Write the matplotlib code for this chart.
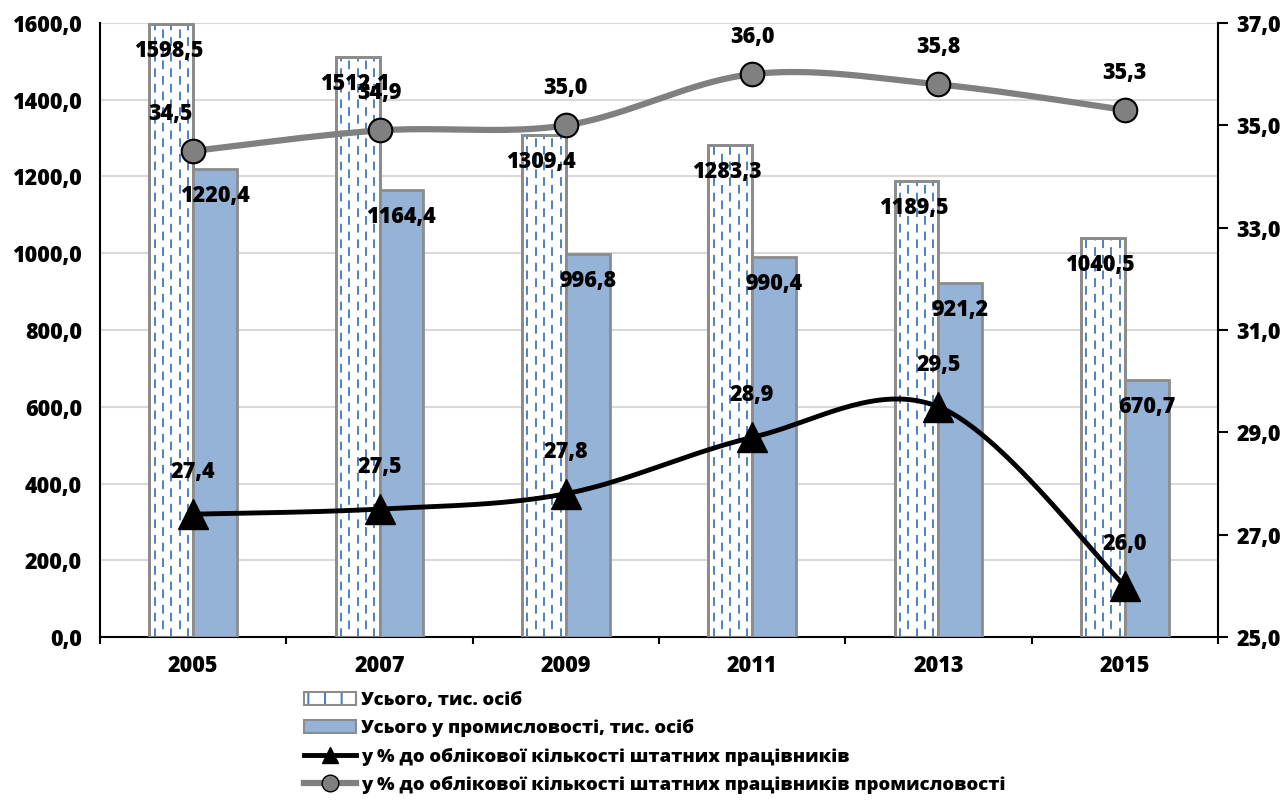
import numpy as np
import matplotlib
matplotlib.use('Agg')
import matplotlib.pyplot as plt
from matplotlib.patches import Patch
from matplotlib.lines import Line2D
from matplotlib.legend_handler import HandlerTuple

plt.rcParams['font.family'] = ['Open Sans', 'DejaVu Sans']
plt.rcParams['font.weight'] = 'heavy'
plt.rcParams['hatch.linewidth'] = 1.5

years = ['2005', '2007', '2009', '2011', '2013', '2015']
total = [1598.5, 1512.1, 1309.4, 1283.3, 1189.5, 1040.5]
industry = [1220.4, 1164.4, 996.8, 990.4, 921.2, 670.7]
pct_staff = [27.4, 27.5, 27.8, 28.9, 29.5, 26.0]
pct_industry = [34.5, 34.9, 35.0, 36.0, 35.8, 35.3]

labels = ['Усього, тис. осіб',
          'Усього у промисловості, тис. осіб',
          'у % до облікової кількості штатних працівників',
          'у % до облікової кількості штатних працівників промисловості']

blue_fill = '#95b3d7'
blue_dash = '#4f81bd'
edge = '#8c8c8c'
gray_line = '#808080'
fw = 'heavy'
fs = 15.5


def fmt(v):
    return f'{v:.1f}'.replace('.', ',')


def smooth(xs, ys, n=40):
    # excel-like smoothed line: bezier through points, control = p +/- (p[i+1]-p[i-1])/6
    p = np.column_stack([xs, ys]).astype(float)
    ext = np.vstack([p[0], p, p[-1]])
    out = []
    for i in range(len(p) - 1):
        p0, p1, p2, p3 = ext[i], ext[i + 1], ext[i + 2], ext[i + 3]
        c1 = p1 + (p2 - p0) / 6
        c2 = p2 - (p3 - p1) / 6
        t = np.linspace(0, 1, n)[:, None]
        seg = ((1 - t) ** 3) * p1 + 3 * ((1 - t) ** 2) * t * c1 + 3 * (1 - t) * t ** 2 * c2 + t ** 3 * p2
        out.append(seg if i == 0 else seg[1:])
    out = np.vstack(out)
    return out[:, 0], out[:, 1]


fig = plt.figure(figsize=(12.86, 8), dpi=100)
ax = fig.add_axes([100 / 1286, 1 - 637 / 800, 1118 / 1286, 614 / 800])
ax2 = ax.twinx()

x = np.arange(len(years))
w = 0.235

# hatched bars (white with blue dashed columns)
ax.bar(x - w / 2, total, w, color='white', edgecolor=edge, linewidth=2, zorder=2)
for i, v in enumerate(total):
    for k, f in enumerate([0.12, 0.31, 0.5, 0.69, 0.88]):
        xx = x[i] - w + f * w
        ls = (0, (4.5, 3.5)) if k % 2 == 0 else (4, (4.5, 3.5))
        ax.vlines(xx, 0, v, colors=blue_dash, linewidth=1.4, linestyles=[ls], zorder=2.5)
ax.bar(x - w / 2, total, w, color='none', edgecolor=edge, linewidth=2, zorder=3)
ax.bar(x + w / 2, industry, w, color=blue_fill, edgecolor=edge, linewidth=2, zorder=3)

for i in range(len(years)):
    ax.annotate(fmt(total[i]), (x[i] - w / 2, total[i]), xytext=(-3, -27), textcoords='offset pixels',
                ha='center', va='center', fontsize=fs, fontweight=fw, zorder=5)
    ax.annotate(fmt(industry[i]), (x[i] + w / 2, industry[i]), xytext=(0, -27), textcoords='offset pixels',
                ha='center', va='center', fontsize=fs, fontweight=fw, zorder=5)

ax.set_xlim(-0.5, len(years) - 0.5)
ax.set_ylim(0, 1600)
ax.set_yticks(np.arange(0, 1601, 200))
ax.set_yticklabels([fmt(v) for v in np.arange(0, 1601, 200)], fontsize=fs, fontweight=fw)
ax.set_xticks(x)
ax.set_xticklabels(years, fontsize=fs, fontweight=fw)
ax.set_xticks(np.arange(-0.5, len(years), 1), minor=True)
ax.tick_params(axis='x', which='major', length=0, pad=12)
ax.tick_params(axis='x', which='minor', length=5, width=1.5, direction='out')
ax.tick_params(axis='y', length=0, pad=13)
ax.grid(axis='y', color='#d9d9d9', linewidth=1.5, zorder=0)
ax.set_axisbelow(True)
for s in ['top', 'right']:
    ax.spines[s].set_visible(False)
ax.spines['left'].set_linewidth(1.5)
ax.spines['bottom'].set_linewidth(1.5)

# lines on right axis
sx, sy = smooth(x, pct_industry)
ax2.plot(sx, sy, color=gray_line, linewidth=4.5, zorder=4, solid_capstyle='round')
ax2.plot(x, pct_industry, linestyle='none', marker='o', markersize=17, markerfacecolor=gray_line,
         markeredgecolor='black', markeredgewidth=1.5, zorder=5)
sx, sy = smooth(x, pct_staff)
ax2.plot(sx, sy, color='black', linewidth=3.5, zorder=4)
ax2.plot(x, pct_staff, linestyle='none', marker='^', markersize=22, color='black', zorder=5)

for i in range(len(years)):
    dx = -23 if i == 0 else 0
    ax2.annotate(fmt(pct_industry[i]), (x[i], pct_industry[i]), xytext=(dx, 37), textcoords='offset pixels',
                 ha='center', va='center', fontsize=fs, fontweight=fw, zorder=6)
    ax2.annotate(fmt(pct_staff[i]), (x[i], pct_staff[i]), xytext=(0, 42), textcoords='offset pixels',
                 ha='center', va='center', fontsize=fs, fontweight=fw, zorder=6)

ax2.set_ylim(25, 37)
ax2.set_yticks(np.arange(25, 37.1, 2))
ax2.set_yticklabels([fmt(v) for v in np.arange(25, 37.1, 2)], fontsize=fs, fontweight=fw)
ax2.tick_params(axis='y', length=7, width=1.5, pad=6)
for s in ['top', 'left', 'bottom']:
    ax2.spines[s].set_visible(False)
ax2.spines['right'].set_linewidth(1.5)

h1 = (Patch(facecolor='white', edgecolor=blue_dash, hatch='|', linewidth=0),
      Patch(facecolor='none', edgecolor=edge, linewidth=1.5))
h2 = Patch(facecolor=blue_fill, edgecolor=edge, linewidth=1.5)
h3 = Line2D([], [], color='black', linewidth=3.5, marker='^', markersize=12)
h4 = Line2D([], [], color=gray_line, linewidth=4.5, marker='o', markersize=12,
            markerfacecolor=gray_line, markeredgecolor='black')
fig.legend([h1, h2, h3, h4], labels, loc='upper left', bbox_to_anchor=(295 / 1286, 1 - 683 / 800),
           frameon=False, prop={'weight': fw, 'size': 13.3},
           handlelength=2.8, handletextpad=0.25, labelspacing=0.55, borderpad=0,
           handler_map={tuple: HandlerTuple(ndivide=1, pad=0)})

fig.savefig('out.png', dpi=100)
